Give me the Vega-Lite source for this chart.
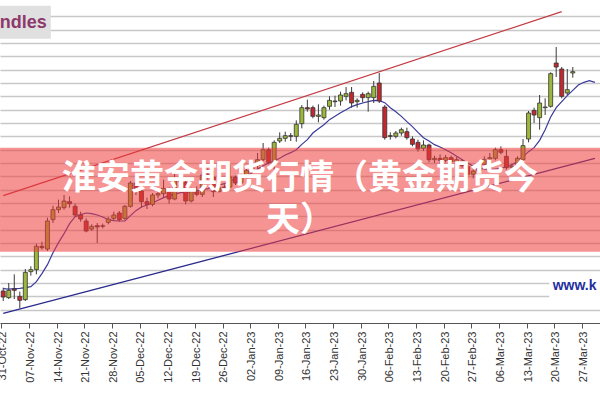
{
  "$schema": "https://vega.github.io/schema/vega-lite/v6.json",
  "width": 600,
  "height": 323,
  "autosize": {"type": "none"},
  "padding": {"left": 0, "top": 0, "right": 0, "bottom": 77},
  "background": "white",
  "config": {
    "view": {"stroke": null},
    "axisY": {"labels": false, "ticks": false, "domain": false, "title": null, "gridColor": "#c8c8c8", "gridWidth": 1.5},
    "axisX": {"grid": false, "labelAngle": 270, "labelFont": "Liberation Sans", "labelFontSize": 11, "labelColor": "#333333", "tickColor": "#555555", "domainColor": "#555555", "tickSize": 5, "title": null, "labelPadding": 3}
  },
  "data": {"values": [
    {"d":"2022-10-31","o":1643,"h":1648,"l":1628,"c":1634,"ma":1646.5},
    {"d":"2022-11-01","o":1633,"h":1655,"l":1631,"c":1644,"ma":1645.8},
    {"d":"2022-11-02","o":1646,"h":1668,"l":1631,"c":1644,"ma":1646.5},
    {"d":"2022-11-03","o":1635,"h":1642,"l":1617,"c":1629,"ma":1647},
    {"d":"2022-11-04","o":1630,"h":1676,"l":1628,"c":1671,"ma":1648},
    {"d":"2022-11-07","o":1672,"h":1680,"l":1666,"c":1675,"ma":1649.5},
    {"d":"2022-11-08","o":1675,"h":1714,"l":1668,"c":1710,"ma":1657},
    {"d":"2022-11-09","o":1710,"h":1717,"l":1705,"c":1708,"ma":1669},
    {"d":"2022-11-10","o":1706,"h":1753,"l":1703,"c":1748,"ma":1682.5},
    {"d":"2022-11-11","o":1750,"h":1771,"l":1745,"c":1765,"ma":1700.5},
    {"d":"2022-11-14","o":1765,"h":1780,"l":1760,"c":1769,"ma":1715.5},
    {"d":"2022-11-15","o":1768,"h":1787,"l":1765,"c":1778,"ma":1729},
    {"d":"2022-11-16","o":1777,"h":1785,"l":1768,"c":1774,"ma":1744},
    {"d":"2022-11-17","o":1770,"h":1774,"l":1754,"c":1757,"ma":1754.5},
    {"d":"2022-11-18","o":1757,"h":1762,"l":1747,"c":1751,"ma":1757.5},
    {"d":"2022-11-21","o":1748,"h":1752,"l":1731,"c":1733,"ma":1760},
    {"d":"2022-11-22","o":1736,"h":1743,"l":1733,"c":1740,"ma":1759},
    {"d":"2022-11-23","o":1741,"h":1745,"l":1715,"c":1739,"ma":1757},
    {"d":"2022-11-24","o":1740,"h":1744,"l":1737,"c":1741,"ma":1754},
    {"d":"2022-11-25","o":1746,"h":1754,"l":1743,"c":1751,"ma":1750},
    {"d":"2022-11-28","o":1752,"h":1762,"l":1748,"c":1757,"ma":1748.5},
    {"d":"2022-11-29","o":1760,"h":1763,"l":1747,"c":1750,"ma":1748},
    {"d":"2022-11-30","o":1752,"h":1772,"l":1750,"c":1770,"ma":1748},
    {"d":"2022-12-01","o":1770,"h":1808,"l":1768,"c":1805,"ma":1756},
    {"d":"2022-12-02","o":1805,"h":1810,"l":1787,"c":1797,"ma":1763.5},
    {"d":"2022-12-05","o":1793,"h":1800,"l":1768,"c":1777,"ma":1769},
    {"d":"2022-12-06","o":1777,"h":1783,"l":1766,"c":1773,"ma":1772},
    {"d":"2022-12-07","o":1773,"h":1790,"l":1770,"c":1787,"ma":1775},
    {"d":"2022-12-08","o":1787,"h":1795,"l":1782,"c":1789,"ma":1779},
    {"d":"2022-12-09","o":1789,"h":1810,"l":1784,"c":1797,"ma":1783},
    {"d":"2022-12-12","o":1797,"h":1798,"l":1774,"c":1781,"ma":1786},
    {"d":"2022-12-13","o":1781,"h":1824,"l":1779,"c":1810,"ma":1788},
    {"d":"2022-12-14","o":1810,"h":1814,"l":1799,"c":1807,"ma":1790.5},
    {"d":"2022-12-15","o":1806,"h":1808,"l":1773,"c":1778,"ma":1791},
    {"d":"2022-12-16","o":1778,"h":1798,"l":1776,"c":1792,"ma":1792},
    {"d":"2022-12-19","o":1792,"h":1800,"l":1785,"c":1788,"ma":1793.5},
    {"d":"2022-12-20","o":1788,"h":1822,"l":1784,"c":1817,"ma":1795},
    {"d":"2022-12-21","o":1817,"h":1827,"l":1810,"c":1814,"ma":1796.5},
    {"d":"2022-12-22","o":1814,"h":1823,"l":1784,"c":1792,"ma":1799.5},
    {"d":"2022-12-23","o":1792,"h":1806,"l":1791,"c":1798,"ma":1802},
    {"d":"2022-12-26","o":1798,"h":1803,"l":1796,"c":1799,"ma":1804},
    {"d":"2022-12-27","o":1799,"h":1833,"l":1797,"c":1814,"ma":1808},
    {"d":"2022-12-28","o":1814,"h":1816,"l":1802,"c":1805,"ma":1811},
    {"d":"2022-12-29","o":1805,"h":1821,"l":1803,"c":1815,"ma":1813},
    {"d":"2022-12-30","o":1815,"h":1826,"l":1812,"c":1824,"ma":1815},
    {"d":"2023-01-02","o":1824,"h":1833,"l":1822,"c":1828,"ma":1820.5},
    {"d":"2023-01-03","o":1831,"h":1850,"l":1826,"c":1840,"ma":1826},
    {"d":"2023-01-04","o":1840,"h":1865,"l":1838,"c":1855,"ma":1831},
    {"d":"2023-01-05","o":1855,"h":1858,"l":1833,"c":1836,"ma":1835},
    {"d":"2023-01-06","o":1834,"h":1869,"l":1825,"c":1866,"ma":1838},
    {"d":"2023-01-09","o":1868,"h":1881,"l":1865,"c":1872,"ma":1842},
    {"d":"2023-01-10","o":1872,"h":1882,"l":1867,"c":1876,"ma":1847},
    {"d":"2023-01-11","o":1876,"h":1880,"l":1868,"c":1875,"ma":1850.5},
    {"d":"2023-01-12","o":1875,"h":1899,"l":1867,"c":1893,"ma":1855},
    {"d":"2023-01-13","o":1894,"h":1922,"l":1887,"c":1918,"ma":1863},
    {"d":"2023-01-16","o":1918,"h":1930,"l":1912,"c":1916,"ma":1870},
    {"d":"2023-01-17","o":1918,"h":1921,"l":1902,"c":1905,"ma":1880},
    {"d":"2023-01-18","o":1905,"h":1923,"l":1896,"c":1907,"ma":1886.5},
    {"d":"2023-01-19","o":1903,"h":1921,"l":1900,"c":1918,"ma":1892.5},
    {"d":"2023-01-20","o":1920,"h":1935,"l":1915,"c":1929,"ma":1900},
    {"d":"2023-01-23","o":1928,"h":1936,"l":1919,"c":1927,"ma":1905},
    {"d":"2023-01-24","o":1928,"h":1942,"l":1921,"c":1937,"ma":1910.5},
    {"d":"2023-01-25","o":1935,"h":1949,"l":1929,"c":1939,"ma":1915},
    {"d":"2023-01-26","o":1941,"h":1949,"l":1918,"c":1925,"ma":1919.5},
    {"d":"2023-01-27","o":1927,"h":1932,"l":1918,"c":1929,"ma":1922.5},
    {"d":"2023-01-30","o":1938,"h":1941,"l":1926,"c":1933,"ma":1925},
    {"d":"2023-01-31","o":1933,"h":1942,"l":1912,"c":1939,"ma":1927},
    {"d":"2023-02-01","o":1933,"h":1958,"l":1925,"c":1950,"ma":1929},
    {"d":"2023-02-02","o":1955,"h":1970,"l":1925,"c":1928,"ma":1928.5},
    {"d":"2023-02-03","o":1919,"h":1922,"l":1870,"c":1873,"ma":1925.5},
    {"d":"2023-02-06","o":1876,"h":1881,"l":1870,"c":1875,"ma":1918},
    {"d":"2023-02-07","o":1875,"h":1883,"l":1872,"c":1880,"ma":1912},
    {"d":"2023-02-08","o":1880,"h":1888,"l":1876,"c":1885,"ma":1905},
    {"d":"2023-02-09","o":1882,"h":1888,"l":1870,"c":1873,"ma":1897},
    {"d":"2023-02-10","o":1871,"h":1875,"l":1860,"c":1863,"ma":1889.5},
    {"d":"2023-02-13","o":1866,"h":1870,"l":1852,"c":1856,"ma":1881},
    {"d":"2023-02-14","o":1857,"h":1869,"l":1853,"c":1862,"ma":1873},
    {"d":"2023-02-15","o":1862,"h":1864,"l":1836,"c":1840,"ma":1868},
    {"d":"2023-02-16","o":1840,"h":1846,"l":1835,"c":1842,"ma":1862.5},
    {"d":"2023-02-17","o":1842,"h":1848,"l":1833,"c":1839,"ma":1859},
    {"d":"2023-02-20","o":1839,"h":1847,"l":1836,"c":1843,"ma":1855},
    {"d":"2023-02-21","o":1843,"h":1846,"l":1833,"c":1837,"ma":1850.5},
    {"d":"2023-02-22","o":1837,"h":1844,"l":1832,"c":1840,"ma":1845},
    {"d":"2023-02-23","o":1838,"h":1841,"l":1828,"c":1831,"ma":1840},
    {"d":"2023-02-24","o":1830,"h":1834,"l":1812,"c":1818,"ma":1835},
    {"d":"2023-02-27","o":1818,"h":1828,"l":1812,"c":1823,"ma":1830},
    {"d":"2023-02-28","o":1823,"h":1838,"l":1820,"c":1833,"ma":1827},
    {"d":"2023-03-01","o":1833,"h":1845,"l":1830,"c":1840,"ma":1826},
    {"d":"2023-03-02","o":1841,"h":1850,"l":1836,"c":1843,"ma":1825},
    {"d":"2023-03-03","o":1842,"h":1858,"l":1839,"c":1855,"ma":1826},
    {"d":"2023-03-06","o":1855,"h":1860,"l":1848,"c":1851,"ma":1827},
    {"d":"2023-03-07","o":1845,"h":1855,"l":1825,"c":1828,"ma":1829.5},
    {"d":"2023-03-08","o":1828,"h":1834,"l":1824,"c":1830,"ma":1832.5},
    {"d":"2023-03-09","o":1830,"h":1845,"l":1826,"c":1842,"ma":1837},
    {"d":"2023-03-10","o":1840,"h":1871,"l":1836,"c":1861,"ma":1844.5},
    {"d":"2023-03-13","o":1871,"h":1913,"l":1866,"c":1910,"ma":1852},
    {"d":"2023-03-14","o":1914,"h":1918,"l":1895,"c":1907,"ma":1858},
    {"d":"2023-03-15","o":1903,"h":1937,"l":1885,"c":1925,"ma":1869},
    {"d":"2023-03-16","o":1918,"h":1932,"l":1907,"c":1919,"ma":1885},
    {"d":"2023-03-17","o":1920,"h":1971,"l":1918,"c":1969,"ma":1904},
    {"d":"2023-03-20","o":1985,"h":2009,"l":1964,"c":1979,"ma":1918},
    {"d":"2023-03-21","o":1976,"h":1979,"l":1932,"c":1935,"ma":1927},
    {"d":"2023-03-22","o":1940,"h":1976,"l":1937,"c":1945,"ma":1936},
    {"d":"2023-03-23","o":1970,"h":1979,"l":1963,"c":1972,"ma":1944},
    {"d":"2023-03-24","ma":1952},
    {"d":"2023-03-27","ma":1956},
    {"d":"2023-03-28","ma":1958.5},
    {"d":"2023-03-29","ma":1956}
  ]},
  "layer": [
    {
      "data": {"values": [{"d":"2022-10-31","v":1786},{"d":"2023-03-21","v":2062}]},
      "mark": {"type": "line", "color": "#c43a44", "strokeWidth": 1.2},
      "encoding": {
        "x": {"field": "d", "type": "ordinal", "sort": "ascending",
              "scale": {"type": "band", "paddingInner": 0, "paddingOuter": 0.25, "align": 0.16},
              "axis": {"bandPosition": 0.25, "values": ["2022-10-31","2022-11-07","2022-11-14","2022-11-21","2022-11-28","2022-12-05","2022-12-12","2022-12-19","2022-12-26","2023-01-02","2023-01-09","2023-01-16","2023-01-23","2023-01-30","2023-02-06","2023-02-13","2023-02-20","2023-02-27","2023-03-06","2023-03-13","2023-03-20","2023-03-27"],
                       "labelExpr": "utcFormat(utcParse(datum.value, '%Y-%m-%d'), '%d-%b-%y')"}},
        "y": {"field": "v", "type": "quantitative", "title": null,
              "scale": {"domain": [1595, 2079.5], "nice": false, "zero": false},
              "axis": {"tickCount": 40, "values": [1615,1635,1655,1675,1695,1715,1735,1755,1775,1795,1815,1835,1855,1875,1895,1915,1935,1955,1975,1995,2015,2035,2055]}}
      }
    },
    {
      "data": {"values": [{"d":"2022-10-31","v":1609.5},{"d":"2023-03-29","v":1842}]},
      "mark": {"type": "line", "color": "#2a2a8e", "strokeWidth": 1.3},
      "encoding": {
        "x": {"field": "d", "type": "ordinal"},
        "y": {"field": "v", "type": "quantitative", "title": null}
      }
    },
    {
      "mark": {"type": "line", "color": "#3a3a9c", "strokeWidth": 1.2},
      "encoding": {
        "x": {"field": "d", "type": "ordinal"},
        "y": {"field": "ma", "type": "quantitative", "title": null}
      }
    },
    {
      "mark": {"type": "rule", "color": "#3a3a3a", "strokeWidth": 1},
      "encoding": {
        "x": {"field": "d", "type": "ordinal"},
        "y": {"field": "l", "type": "quantitative", "title": null},
        "y2": {"field": "h"}
      }
    },
    {
      "mark": {"type": "bar", "width": 4, "stroke": "#333333", "strokeWidth": 0.8},
      "encoding": {
        "x": {"field": "d", "type": "ordinal"},
        "y": {"field": "o", "type": "quantitative", "title": null},
        "y2": {"field": "c"},
        "fill": {"condition": {"test": "datum.c >= datum.o", "value": "#9cb83a"}, "value": "#c4282e"}
      }
    },
    {
      "data": {"values": [{}]},
      "mark": {"type": "rect", "color": "#ee3b3b", "opacity": 0.55},
      "encoding": {
        "y": {"datum": 1858, "type": "quantitative"},
        "y2": {"datum": 1702}
      }
    },
    {
      "data": {"values": [{}]},
      "mark": {"type": "text", "text": ["淮安黄金期货行情（黄金期货今", "天）"], "lineHeight": 42, "font": "Noto Sans CJK SC", "fontSize": 34, "fontWeight": "bold", "color": "white", "align": "center", "baseline": "middle"},
      "encoding": {"y": {"datum": 1811.5, "type": "quantitative"}}
    },
    {
      "data": {"values": [{}]},
      "mark": {"type": "bar", "width": 58, "color": "white"},
      "encoding": {
        "x": {"datum": "2023-03-24", "type": "ordinal"},
        "y": {"datum": 1665, "type": "quantitative"},
        "y2": {"datum": 1627}
      }
    },
    {
      "data": {"values": [{}]},
      "mark": {"type": "text", "text": "www.k", "font": "Liberation Sans", "fontSize": 14, "fontWeight": "bold", "color": "#1f2fa0", "align": "left", "baseline": "middle", "dx": 2},
      "encoding": {
        "x": {"datum": "2023-03-17", "type": "ordinal"},
        "y": {"datum": 1651, "type": "quantitative"}
      }
    },
    {
      "data": {"values": [{}]},
      "mark": {"type": "bar", "width": 51, "color": "#e0e0e0"},
      "encoding": {
        "x": {"datum": "2022-11-04", "type": "ordinal"},
        "y": {"datum": 2071, "type": "quantitative"},
        "y2": {"datum": 2021.5}
      }
    },
    {
      "data": {"values": [{}]},
      "mark": {"type": "text", "text": "ndles", "font": "Liberation Sans", "fontSize": 18, "fontWeight": "bold", "color": "#8c3a6c", "align": "right", "baseline": "alphabetic", "dx": 16},
      "encoding": {
        "x": {"datum": "2022-11-07", "type": "ordinal"},
        "y": {"datum": 2037.5, "type": "quantitative"}
      }
    }
  ]
}
